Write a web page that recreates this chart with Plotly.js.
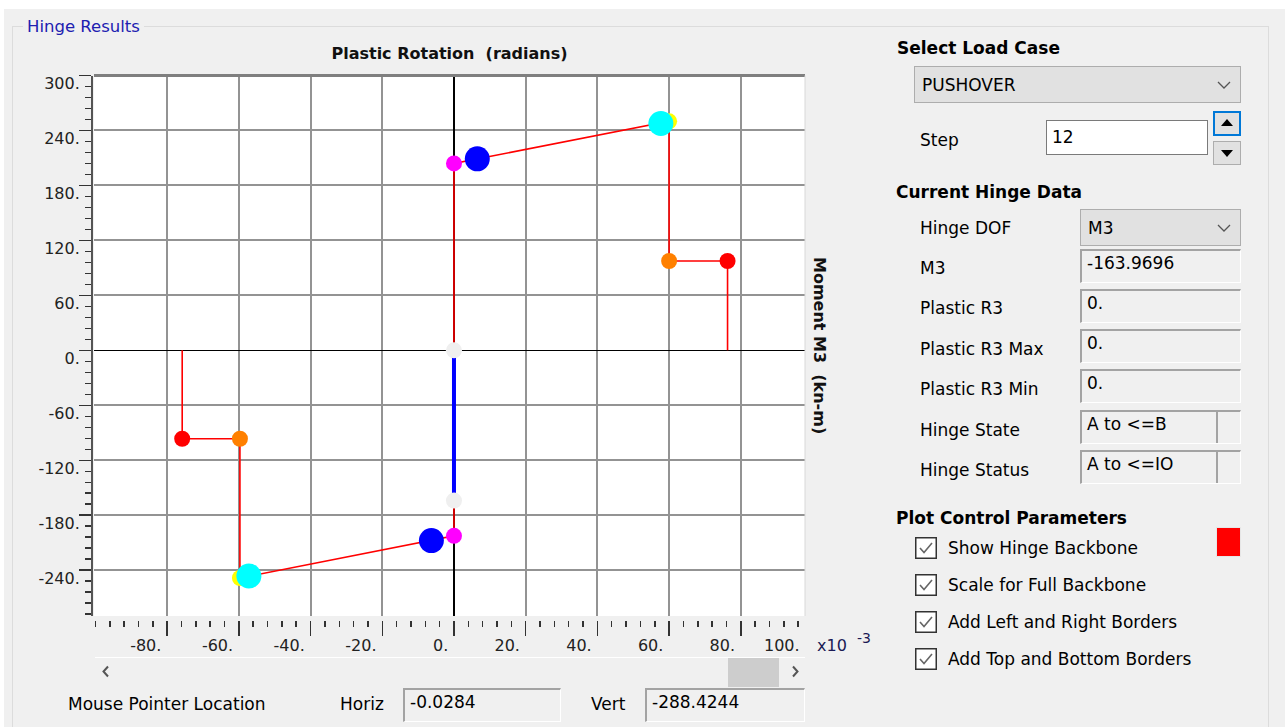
<!DOCTYPE html>
<html>
<head>
<meta charset="utf-8">
<script src="https://cdn.plot.ly/plotly-3.0.1.min.js"></script>
<style>
html,body{margin:0;padding:0;}
body{width:1285px;height:727px;overflow:hidden;background:#ffffff;position:relative;font-family:"DejaVu Sans",sans-serif;font-size:17px;color:#000;}
.a{position:absolute;box-sizing:border-box;}
.t{position:absolute;line-height:20px;white-space:nowrap;}
.b{font-weight:bold;}
.combo{position:absolute;box-sizing:border-box;background:#e1e1e1;border:1px solid #adadad;}
.combo .tx{position:absolute;left:7px;top:50%;margin-top:-10px;line-height:20px;}
.combo svg{position:absolute;right:9px;top:50%;margin-top:-4px;}
.sunk{position:absolute;box-sizing:border-box;border-top:2px solid #a3a3a3;border-left:2px solid #a3a3a3;border-right:1px solid #ffffff;border-bottom:1px solid #ffffff;background:#f0f0f0;padding:2px 0 0 5px;line-height:20px;white-space:nowrap;}
.div{position:absolute;top:0;bottom:0;width:2px;background:#a3a3a3;}
.chk{position:absolute;width:22px;height:22px;}
#plot{position:absolute;left:0;top:0;width:880px;height:727px;}
</style>
</head>
<body>
<div class="a" style="left:4px;top:9px;width:1281px;height:718px;background:#f0f0f0;"></div>
<div class="a" style="left:12px;top:26px;width:1257px;height:720px;border:1px solid #dcdcdc;"></div>
<div class="t" style="left:23px;top:17px;padding:0 4px;background:#f0f0f0;color:#2020b0;font-size:16.5px;">Hinge Results</div>

<!-- right panel -->
<div class="t b" style="left:897px;top:38px;">Select Load Case</div>
<div class="combo" style="left:914px;top:66px;width:327px;height:37px;"><span class="tx">PUSHOVER</span><svg width="14" height="8"><polyline points="1,1 7,7 13,1" fill="none" stroke="#555" stroke-width="1.3"/></svg></div>
<div class="t" style="left:920px;top:130px;">Step</div>
<div class="a" style="left:1046px;top:120px;width:162px;height:35px;background:#fff;border:1px solid #7a7a7a;"><span class="t" style="left:5px;top:6px;">12</span></div>
<div class="a" style="left:1213px;top:111px;width:28px;height:25px;border:2px solid #0078d7;background:#e1e1e1;"><svg style="position:absolute;left:6px;top:6px;" width="12" height="7"><polygon points="0,7 6,0 12,7" fill="#000"/></svg></div>
<div class="a" style="left:1213px;top:141px;width:28px;height:24px;border:1px solid #adadad;background:#e1e1e1;"><svg style="position:absolute;left:7px;top:8px;" width="12" height="7"><polygon points="0,0 6,7 12,0" fill="#000"/></svg></div>

<div class="t b" style="left:896px;top:182px;">Current Hinge Data</div>
<div class="t" style="left:920px;top:218px;">Hinge DOF</div>
<div class="combo" style="left:1080px;top:209px;width:161px;height:37px;"><span class="tx">M3</span><svg width="14" height="8"><polyline points="1,1 7,7 13,1" fill="none" stroke="#555" stroke-width="1.3"/></svg></div>
<div class="t" style="left:920px;top:258px;">M3</div>
<div class="sunk" style="left:1080px;top:249px;width:161px;height:34px;">-163.9696</div>
<div class="t" style="left:920px;top:298px;">Plastic R3</div>
<div class="sunk" style="left:1080px;top:289px;width:161px;height:34px;">0.</div>
<div class="t" style="left:920px;top:339px;">Plastic R3 Max</div>
<div class="sunk" style="left:1080px;top:329px;width:161px;height:34px;">0.</div>
<div class="t" style="left:920px;top:379px;">Plastic R3 Min</div>
<div class="sunk" style="left:1080px;top:369px;width:161px;height:34px;">0.</div>
<div class="t" style="left:920px;top:420px;">Hinge State</div>
<div class="sunk" style="left:1080px;top:410px;width:161px;height:34px;">A to &lt;=B<div class="div" style="left:134px;"></div></div>
<div class="t" style="left:920px;top:460px;">Hinge Status</div>
<div class="sunk" style="left:1080px;top:450px;width:161px;height:34px;">A to &lt;=IO<div class="div" style="left:134px;"></div></div>

<div class="t b" style="left:896px;top:508px;">Plot Control Parameters</div>
<svg class="chk" style="left:915px;top:537px;" viewBox="0 0 22 22"><rect x="0.75" y="0.75" width="20.5" height="20.5" fill="#fff" stroke="#333" stroke-width="1.5"/><polyline points="5,11 9,15.5 17,6" fill="none" stroke="#666" stroke-width="1.6"/></svg>
<div class="t" style="left:948px;top:538px;">Show Hinge Backbone</div>
<svg class="chk" style="left:915px;top:574px;" viewBox="0 0 22 22"><rect x="0.75" y="0.75" width="20.5" height="20.5" fill="#fff" stroke="#333" stroke-width="1.5"/><polyline points="5,11 9,15.5 17,6" fill="none" stroke="#666" stroke-width="1.6"/></svg>
<div class="t" style="left:948px;top:575px;">Scale for Full Backbone</div>
<svg class="chk" style="left:915px;top:611px;" viewBox="0 0 22 22"><rect x="0.75" y="0.75" width="20.5" height="20.5" fill="#fff" stroke="#333" stroke-width="1.5"/><polyline points="5,11 9,15.5 17,6" fill="none" stroke="#666" stroke-width="1.6"/></svg>
<div class="t" style="left:948px;top:612px;">Add Left and Right Borders</div>
<svg class="chk" style="left:915px;top:648px;" viewBox="0 0 22 22"><rect x="0.75" y="0.75" width="20.5" height="20.5" fill="#fff" stroke="#333" stroke-width="1.5"/><polyline points="5,11 9,15.5 17,6" fill="none" stroke="#666" stroke-width="1.6"/></svg>
<div class="t" style="left:948px;top:649px;">Add Top and Bottom Borders</div>
<div class="a" style="left:1216px;top:527px;width:25px;height:30px;background:#ff0000;border:1px solid #e6e6e6;"></div>

<!-- bottom -->
<div class="a" style="left:95px;top:657px;width:710px;height:1px;background:#ffffff;"></div>
<div class="a" style="left:728px;top:658px;width:51px;height:29px;background:#cdcdcd;"></div>
<svg class="a" style="left:101px;top:665px;" width="9" height="13"><polyline points="7,1.5 2.5,6.5 7,11.5" fill="none" stroke="#555" stroke-width="2"/></svg>
<svg class="a" style="left:791px;top:665px;" width="9" height="13"><polyline points="2,1.5 6.5,6.5 2,11.5" fill="none" stroke="#555" stroke-width="2"/></svg>
<div class="t" style="left:68px;top:694px;">Mouse Pointer Location</div>
<div class="t" style="left:340px;top:694px;">Horiz</div>
<div class="sunk" style="left:403px;top:688px;width:158px;height:34px;">-0.0284</div>
<div class="t" style="left:591px;top:694px;">Vert</div>
<div class="sunk" style="left:645px;top:688px;width:160px;height:34px;">-288.4244</div>

<div id="plot"></div>

<script>
// ---- axis ticks ----
const xTickVals = [-0.08, -0.06, -0.04, -0.02, 0, 0.02, 0.04, 0.06, 0.08];
const xTickText = ['-80.', '-60.', '-40.', '-20.', '0.', '20.', '40.', '60.', '80.'];
const xEndLabel = '100.';
const yTickVals = [-240, -180, -120, -60, 0, 60, 120, 180, 240, 300];
const yTickText = ['-240.', '-180.', '-120.', '-60.', '0.', '60.', '120.', '180.', '240.', '300.'];
const xRange = [-0.1004, 0.0979];
const yRange = [-290, 300];

// ---- hinge backbone (plastic rotation in radians, moment kN-m) ----
const backboneRot = [-0.0758, -0.0758, -0.0597, -0.0597, 0.0, 0.0, 0.0600, 0.0600, 0.0763, 0.0763];
const backboneMom = [0, -96.5, -96.5, -248.5, -202.5, 204, 250, 97.5, 97.5, 0];

// ---- hinge history ----
const historyRot = [0, 0];
const historyMom = [0, -163.9696];

// ---- backbone point markers ----
const pointBRot = [0, 0];             const pointBMom = [204, -202.5];
const pointIORot = [0.0065, -0.0063]; const pointIOMom = [209, -207.7];
const pointCPRot = [0.0600, -0.0597]; const pointCPMom = [250, -248.5];
const pointLSRot = [0.0577, -0.0572]; const pointLSMom = [247.6, -246.3];
const pointDRot = [0.0600, -0.0597];  const pointDMom = [97.5, -96.5];
const pointERot = [0.0763, -0.0758];  const pointEMom = [97.5, -96.5];
const stateRot = [0, 0];              const stateMom = [0, -163.9696];

function pts(x, y, color, size) {
  return {x: x, y: y, mode: 'markers', type: 'scatter', hoverinfo: 'skip',
    marker: {color: color, size: size, line: {width: 0}}};
}

const traces = [
  {x: backboneRot, y: backboneMom, mode: 'lines', type: 'scatter', hoverinfo: 'skip',
   line: {color: '#ff0000', width: 1.6}},
  {x: historyRot, y: historyMom, mode: 'lines', type: 'scatter', hoverinfo: 'skip',
   line: {color: '#0000ff', width: 4}},
  pts(pointBRot, pointBMom, '#ff00ff', 16),
  pts(pointCPRot, pointCPMom, '#ffff00', 16),
  pts(pointLSRot, pointLSMom, '#00ffff', 25),
  pts(pointIORot, pointIOMom, '#0000ff', 25),
  pts(pointDRot, pointDMom, '#ff8000', 16),
  pts(pointERot, pointEMom, '#ff0000', 16),
  pts(stateRot, stateMom, '#efefef', 16),
  // carriers for the tick-band axes (invisible)
  {x: backboneRot, y: backboneMom, xaxis: 'x2', yaxis: 'y', mode: 'lines', type: 'scatter',
   opacity: 0, hoverinfo: 'skip', line: {width: 0}},
  {x: backboneRot, y: backboneMom, xaxis: 'x', yaxis: 'y2', mode: 'lines', type: 'scatter',
   opacity: 0, hoverinfo: 'skip', line: {width: 0}}
];

const W = 880, H = 727;
const tickFont = {family: 'DejaVu Sans', size: 16, color: '#222'};
const gridCol = '#939393';

const layout = {
  width: W, height: H,
  margin: {l: 0, r: 0, t: 0, b: 0},
  paper_bgcolor: 'rgba(0,0,0,0)',
  plot_bgcolor: '#ffffff',
  showlegend: false,
  font: {family: 'DejaVu Sans', size: 16, color: '#222'},
  title: {text: 'Plastic Rotation\u00a0 (radians)',
    font: {family: 'DejaVu Sans', size: 16, weight: 'bold', color: '#111'},
    x: 449.5 / W, xref: 'paper', xanchor: 'center',
    y: 1 - 53 / H, yref: 'container', yanchor: 'middle'},
  xaxis: {domain: [94 / W, 805 / W], range: xRange, tickmode: 'array', tickvals: xTickVals,
    showticklabels: false, ticks: '', showgrid: true, gridcolor: gridCol, gridwidth: 2,
    zeroline: true, zerolinecolor: '#000', zerolinewidth: 1.3, showline: false, fixedrange: true},
  yaxis: {domain: [(H - 616) / H, (H - 75.5) / H], range: yRange, tickmode: 'array', tickvals: yTickVals,
    showticklabels: false, ticks: '', showgrid: true, gridcolor: gridCol, gridwidth: 2,
    zeroline: true, zerolinecolor: '#000', zerolinewidth: 1.3, showline: false, fixedrange: true},
  xaxis2: {overlaying: 'x', anchor: 'free', position: (H - 620) / H, side: 'bottom',
    range: xRange, tickmode: 'array', tickvals: xTickVals, ticktext: xTickText,
    ticks: 'outside', ticklen: 15, tickwidth: 1.5, tickcolor: '#333',
    ticklabelposition: 'outside left', ticklabelstandoff: 11, ticklabelshift: -5, tickfont: tickFont,
    showgrid: false, zeroline: false, showline: false, fixedrange: true,
    minor: {dtick: 0.004, tick0: 0, ticks: 'outside', ticklen: 6, tickwidth: 1.5, tickcolor: '#333', showgrid: false}},
  yaxis2: {overlaying: 'y', anchor: 'free', position: 92 / W, side: 'left',
    range: yRange, tickmode: 'array', tickvals: yTickVals, ticktext: yTickText,
    ticks: 'outside', ticklen: 12, tickwidth: 1.5, tickcolor: '#333',
    ticklabelposition: 'outside bottom', ticklabelstandoff: 8, ticklabelshift: -4, tickfont: tickFont,
    showgrid: false, zeroline: false, showline: true, linecolor: '#555', linewidth: 2, fixedrange: true,
    minor: {dtick: 12, tick0: 0, ticks: 'outside', ticklen: 6, tickwidth: 1.5, tickcolor: '#333', showgrid: false}},
  shapes: [
    {type: 'line', xref: 'x domain', yref: 'y domain', x0: 0, x1: 1, y0: 1, y1: 1,
     line: {color: '#7f7f7f', width: 3}},
    {type: 'line', xref: 'x domain', yref: 'y domain', x0: 1, x1: 1, y0: 0, y1: 1,
     line: {color: '#d8d8d8', width: 1}}
  ],
  annotations: [
    {text: 'Moment M3\u00a0 (kn-m)', textangle: 90, showarrow: false,
     xref: 'paper', yref: 'paper', x: 820 / W, y: 1 - 345 / H, xanchor: 'center', yanchor: 'middle',
     font: {family: 'DejaVu Sans', size: 16, weight: 'bold', color: '#111'}},
    {text: xEndLabel, showarrow: false,
     xref: 'paper', yref: 'paper', x: 802 / W, y: 1 - 645 / H,
     xanchor: 'right', yanchor: 'middle', font: tickFont},
    {text: 'x10\u00a0\u00a0<span style="font-size:20px"><sup>-3</sup></span>', showarrow: false,
     xref: 'paper', yref: 'paper', x: 815 / W, y: 1 - 642 / H, xanchor: 'left', yanchor: 'middle',
     font: {family: 'DejaVu Sans', size: 16, color: '#1a1a55'}}
  ]
};

Plotly.newPlot('plot', traces, layout, {staticPlot: true, displayModeBar: false});
</script>
</body>
</html>
